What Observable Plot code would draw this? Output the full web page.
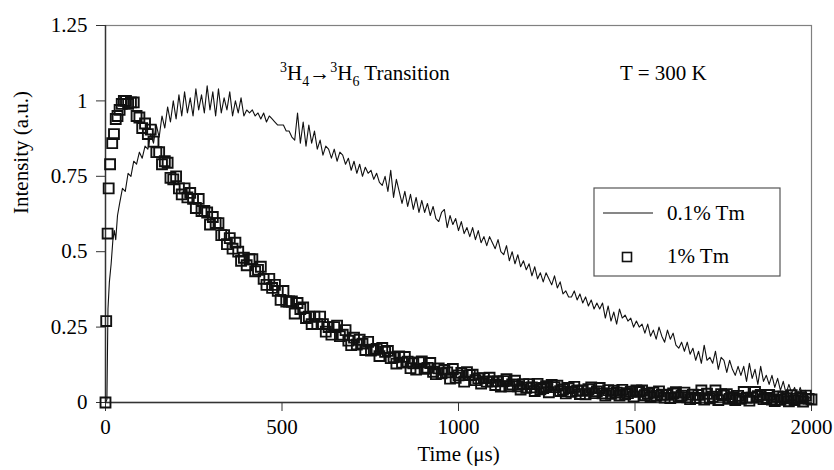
<!DOCTYPE html>
<html><head><meta charset="utf-8">
<script src="https://cdn.jsdelivr.net/npm/d3@7"></script>
<script src="https://cdn.jsdelivr.net/npm/@observablehq/plot@0.6"></script>
<style>body{margin:0;background:#fff}#chart{width:834px;height:470px}
#chart svg, #chart svg text{font-family:"Liberation Serif","Times New Roman","DejaVu Serif",serif !important}</style>
</head><body><div id="chart"></div>
<script>
// Axis ticks and labels
const xTicks = [0, 500, 1000, 1500, 2000];
const xTickLabels = ["0", "500", "1000", "1500", "2000"];
const yTicks = [0, 0.25, 0.5, 0.75, 1, 1.25];
const yTickLabels = ["0", "0.25", "0.5", "0.75", "1", "1.25"];
const xLabel = "Time (μs)";
const yLabel = "Intensity (a.u.)";
const seriesNames = ["0.1% Tm", "1% Tm"];

// 0.1% Tm (line): early samples, then regular sampling every 8 μs from 40 μs
const lowEarlyTime = [0, 4, 7, 11, 16, 21, 25, 29, 34];
const lowEarlyIntensity = [0, 0.01, 0.31, 0.40, 0.46, 0.54, 0.57, 0.54, 0.62];
const lowStartTime = 40, lowStepTime = 8;
const lowIntensity = [
  0.66,0.71,0.70,0.76,0.75,0.80,0.79,0.83,0.81,0.85,
  0.84,0.89,0.86,0.92,0.88,0.95,0.91,0.98,0.93,1.00,
  0.94,1.02,0.95,1.03,0.96,1.01,0.95,1.04,0.97,1.02,
  0.96,1.05,0.97,1.03,0.95,1.04,0.96,1.01,0.97,1.03,
  0.95,1.00,0.96,1.01,0.95,0.97,0.96,0.97,0.95,0.96,
  0.94,0.96,0.93,0.95,0.94,0.93,0.92,0.92,0.92,0.90,
  0.90,0.88,0.87,0.96,0.86,0.93,0.85,0.92,0.86,0.90,
  0.84,0.87,0.82,0.85,0.84,0.81,0.84,0.80,0.83,0.82,
  0.79,0.81,0.77,0.80,0.76,0.79,0.75,0.78,0.76,0.77,
  0.74,0.76,0.73,0.72,0.75,0.70,0.77,0.68,0.74,0.70,
  0.66,0.70,0.65,0.69,0.64,0.68,0.63,0.67,0.63,0.66,
  0.62,0.65,0.61,0.60,0.63,0.64,0.58,0.62,0.59,0.61,
  0.57,0.60,0.56,0.58,0.55,0.58,0.54,0.57,0.53,0.55,
  0.52,0.55,0.53,0.51,0.54,0.50,0.49,0.52,0.47,0.50,
  0.46,0.49,0.45,0.47,0.44,0.46,0.42,0.45,0.41,0.43,
  0.40,0.43,0.41,0.39,0.42,0.38,0.40,0.36,0.37,0.35,
  0.35,0.37,0.34,0.36,0.33,0.35,0.32,0.34,0.31,0.33,
  0.31,0.33,0.28,0.32,0.27,0.30,0.26,0.31,0.28,0.29,
  0.27,0.28,0.25,0.27,0.25,0.26,0.23,0.26,0.22,0.24,
  0.21,0.25,0.22,0.20,0.24,0.21,0.23,0.19,0.18,0.20,
  0.17,0.20,0.16,0.18,0.14,0.17,0.13,0.19,0.14,0.15,
  0.13,0.17,0.11,0.15,0.14,0.10,0.14,0.11,0.09,0.12,
  0.09,0.12,0.07,0.13,0.08,0.11,0.06,0.12,0.07,0.09,
  0.06,0.09,0.05,0.08,0.04,0.07,0.03,0.06,0.03,0.05,
  0.02,0.05,0.02,0.04,0.01,0.03
];

// 1% Tm (squares): early samples, then regular sampling every 8 μs from 72 μs
const highEarlyTime = [0, 2, 6, 9, 13, 19, 24, 29, 34, 40, 46, 52, 58, 64];
const highEarlyIntensity = [0, 0.27, 0.56, 0.71, 0.79, 0.86, 0.89, 0.94, 0.95, 0.97, 0.99, 1.0, 1.0, 0.99];
const highStartTime = 72, highStepTime = 8;
const highIntensity = [
  0.995,0.995,0.95,0.945,0.91,0.925,0.89,0.905,0.865,0.83,
  0.83,0.79,0.80,0.795,0.745,0.74,0.75,0.71,0.69,0.71,
  0.68,0.695,0.675,0.645,0.675,0.635,0.635,0.63,0.59,0.615,
  0.595,0.595,0.555,0.555,0.525,0.545,0.51,0.53,0.50,0.47,
  0.48,0.455,0.475,0.475,0.435,0.44,0.45,0.41,0.39,0.41,
  0.38,0.39,0.37,0.34,0.37,0.335,0.335,0.335,0.295,0.33,
  0.31,0.315,0.28,0.285,0.26,0.285,0.26,0.285,0.26,0.235,
  0.25,0.225,0.25,0.255,0.22,0.225,0.24,0.205,0.19,0.215,
  0.192,0.208,0.195,0.174,0.201,0.172,0.175,0.178,0.154,0.181,
  0.168,0.171,0.147,0.15,0.129,0.153,0.132,0.151,0.135,0.114,
  0.13,0.109,0.133,0.136,0.112,0.115,0.131,0.102,0.094,0.113,
  0.097,0.108,0.10,0.079,0.111,0.082,0.09,0.098,0.069,0.101,
  0.091,0.092,0.074,0.08,0.063,0.081,0.069,0.082,0.07,0.058,
  0.07,0.053,0.071,0.077,0.054,0.06,0.072,0.054,0.043,0.061,
  0.049,0.061,0.05,0.038,0.062,0.044,0.048,0.054,0.034,0.058,
  0.051,0.056,0.038,0.043,0.03,0.048,0.035,0.052,0.04,0.028,
  0.039,0.027,0.044,0.05,0.031,0.037,0.048,0.03,0.023,0.041,
  0.029,0.039,0.033,0.023,0.042,0.027,0.031,0.036,0.02,0.04,
  0.035,0.04,0.024,0.029,0.018,0.033,0.022,0.037,0.026,0.016,
  0.025,0.015,0.03,0.034,0.018,0.023,0.033,0.017,0.011,0.026,
  0.015,0.025,0.04,0.01,0.029,0.014,0.019,0.04,0.008,0.028,
  0.023,0.028,0.012,0.018,0.008,0.022,0.012,0.035,0.016,0.006,
  0.016,0.035,0.021,0.025,0.011,0.015,0.025,0.01,0.005,0.02,
  0.009,0.019,0.014,0.004,0.024,0.008,0.013,0.018,0.003,0.023,
  0.012,0.01
];

// Annotations (data coordinates: time μs, intensity at text baseline)
const transitionAnchor = [496, 1.068];
const temperatureText = "T = 300 K";
const temperatureAnchor = [1459, 1.068];

const lowTm = [
  ...lowEarlyTime.map((t, i) => ({t, v: lowEarlyIntensity[i]})),
  ...lowIntensity.map((v, i) => ({t: lowStartTime + i * lowStepTime, v}))
];
const highTm = [
  ...highEarlyTime.map((t, i) => ({t, v: highEarlyIntensity[i]})),
  ...highIntensity.map((v, i) => ({t: highStartTime + i * highStepTime, v}))
];

const FONT = "Liberation Serif, Times New Roman, DejaVu Serif, serif";
const FS = 21;

const plot = Plot.plot({
  width: 834, height: 470,
  marginLeft: 105, marginRight: 23, marginTop: 25, marginBottom: 68,
  x: {domain: [0, 2000]},
  y: {domain: [0, 1.25]},
  style: {fontFamily: FONT, fontSize: FS + "px", color: "#000", background: "#fff"},
  marks: [
    Plot.frame({stroke: "#808080", strokeWidth: 1.2}),
    Plot.axisX({ticks: xTicks, tickFormat: d => xTickLabels[xTicks.indexOf(d)], tickSize: 9, tickPadding: 8, label: null, stroke: "#333", fontSize: FS}),
    Plot.axisY({ticks: yTicks, tickFormat: d => yTickLabels[yTicks.indexOf(d)], tickSize: 9, tickPadding: 9, label: null, stroke: "#333", fontSize: FS}),
    Plot.ruleX([0], {stroke: "#333", strokeWidth: 1.4}),
    Plot.ruleY([0], {stroke: "#333", strokeWidth: 1.4}),
    Plot.line(lowTm, {x: "t", y: "v", stroke: "#111", strokeWidth: 1.1}),
    Plot.dot(highTm, {x: "t", y: "v", symbol: "square", r: 5.6, stroke: "#111", strokeWidth: 1.9, fill: "none"}),
    Plot.text([xLabel], {text: d => d, frameAnchor: "bottom", dy: 58, fontSize: FS}),
    Plot.text([yLabel], {text: d => d, frameAnchor: "left", dx: -84, rotate: -90, fontSize: FS})
  ]
});
document.getElementById("chart").appendChild(plot);

const sx = plot.scale("x"), sy = plot.scale("y");
const svg = d3.select(plot);

// Transition annotation with superscripts / subscripts
const tr = svg.append("text")
  .attr("x", sx.apply(transitionAnchor[0])).attr("y", sy.apply(transitionAnchor[1]))
  .attr("text-anchor", "start")
  .attr("font-size", FS).attr("fill", "#000");
const parts = [
  ["3", "sup"], ["H", ""], ["4", "sub"], ["→", ""], ["3", "sup"], ["H", ""], ["6", "sub"], [" Transition", ""]
];
let cur = 0;
for (const [s, kind] of parts) {
  const target = kind === "sup" ? -8 : kind === "sub" ? 6 : 0;
  tr.append("tspan").attr("dy", target - cur).attr("font-size", kind ? 14 : FS).text(s);
  cur = target;
}
svg.append("text")
  .attr("x", sx.apply(temperatureAnchor[0])).attr("y", sy.apply(temperatureAnchor[1]))
  .attr("text-anchor", "start")
  .attr("font-size", FS).attr("fill", "#000")
  .text(temperatureText);

// Legend
const lg = svg.append("g").attr("font-size", FS).attr("text-anchor", "start");
lg.append("rect").attr("x", 594).attr("y", 188).attr("width", 186).attr("height", 88)
  .attr("fill", "#fff").attr("stroke", "#555").attr("stroke-width", 1.2);
lg.append("line").attr("x1", 603).attr("x2", 653).attr("y1", 213).attr("y2", 213)
  .attr("stroke", "#111").attr("stroke-width", 1.1);
lg.append("text").attr("x", 667).attr("y", 220).text(seriesNames[0]);
lg.append("rect").attr("x", 622.5).attr("y", 252.5).attr("width", 9).attr("height", 9)
  .attr("fill", "none").attr("stroke", "#111").attr("stroke-width", 1.6);
lg.append("text").attr("x", 667).attr("y", 263).text(seriesNames[1]);
</script>
</body></html>
